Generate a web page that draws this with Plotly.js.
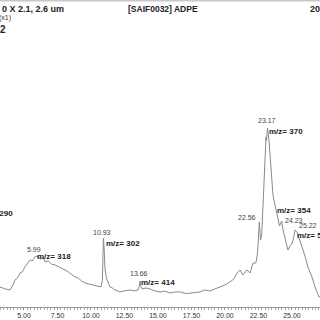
<!DOCTYPE html>
<html>
<head>
<meta charset="utf-8">
<script src="https://cdn.plot.ly/plotly-3.0.1.min.js"></script>
<style>html,body{margin:0;padding:0;background:#fff;}#chart{width:320px;height:320px;}</style>
</head>
<body>
<div id="chart"></div>
<script>
// Retention time (min) and relative abundance (%)
const retentionTime = [
  3.21, 3.58, 3.96, 4.18, 4.33, 4.52, 4.70, 4.88, 5.07, 5.25, 5.45, 5.62, 5.80, 5.99,
  6.12, 6.27, 6.42, 6.57, 6.80, 7.05, 7.31, 7.55, 7.80, 8.06, 8.30, 8.55, 8.81,
  9.05, 9.30, 9.55, 9.80, 10.05, 10.30, 10.55, 10.75, 10.85, 10.93, 11.00, 11.04,
  11.15, 11.27, 11.42, 11.60, 11.79, 12.00, 12.16, 12.40, 12.65, 12.91, 13.20,
  13.51, 13.60, 13.66, 13.72, 13.81, 14.10, 14.40, 14.75, 15.15, 15.50, 15.90,
  16.25, 16.64, 17.10, 17.61, 18.13, 18.50, 18.88, 19.25, 19.63, 20.00, 20.37,
  20.65, 20.90, 21.12, 21.34, 21.50, 21.64, 21.87, 22.09, 22.31, 22.43, 22.56,
  22.65, 22.74, 22.84, 22.95, 23.06, 23.10, 23.17, 23.28, 23.43, 23.58, 23.73,
  23.88, 23.96, 24.07, 24.23, 24.33, 24.48, 24.70, 24.85, 25.00, 25.15, 25.22,
  25.37, 25.52, 25.67, 25.82, 25.97, 26.19, 26.49, 26.72, 26.87, 27.01, 27.09
];
const abundance = [
  11.2, 10.1, 9.5, 12.3, 15.1, 16.2, 19.0, 19.6, 22.3, 24.0, 26.3, 25.7, 27.9, 28.5,
  27.4, 26.8, 27.6, 25.1, 25.7, 24.0, 23.5, 22.6, 21.8, 20.7, 19.6, 18.4, 16.8,
  16.2, 14.5, 13.4, 13.0, 12.6, 12.3, 11.7, 11.2, 15.0, 38.5, 30.0, 21.8,
  16.2, 13.4, 11.2, 10.6, 9.5, 9.0, 8.4, 8.9, 9.2, 9.5, 9.0,
  9.5, 11.5, 14.5, 11.5, 10.1, 10.6, 10.1, 9.0, 8.4, 8.9, 7.8,
  8.4, 8.4, 7.5, 7.8, 8.4, 9.5, 8.9, 10.1, 11.2, 12.3, 14.0,
  15.6, 19.0, 20.7, 17.9, 19.6, 20.7, 19.0, 24.6, 24.6, 30.2, 47.5,
  37.4, 40.0, 59.8, 78.0, 95.0, 93.0, 100.0, 93.3, 78.2, 62.6, 57.0,
  52.5, 49.7, 45.3, 48.0, 43.0, 38.5, 31.8, 34.1, 35.2, 39.7, 43.0,
  41.9, 38.5, 35.2, 33.0, 28.5, 22.3, 16.8, 11.2, 7.8, 5.6, 5.6
];

// Peak annotations
const peakTimes = [5.99, 10.93, 13.66, 22.56, 23.17, 24.23, 25.22];
const peakLabels = ["5.99", "10.93", "13.66", "22.56", "23.17", "24.23", "25.22"];
const mzLabels = ["m/z= 318", "m/z= 302", "m/z= 414", "", "m/z= 370", "m/z= 354", "m/z= 5"];

// Axis tick labels
const tickValues = [5, 7.5, 10, 12.5, 15, 17.5, 20, 22.5, 25];
const tickLabels = ["5.00", "7.50", "10.00", "12.50", "15.00", "17.50", "20.00", "22.50", "25.00"];

// Header texts
const headerLeft = "0 X 2.1, 2.6 um";
const headerSub = "(x1)";
const headerCenter = "[SAIF0032] ADPE";
const headerRight = "20";
const leftCutLabel = "m/z= 290";
const topCutLabel = "2";

function valueAt(t) {
  let best = 0;
  for (let i = 0; i < retentionTime.length; i++) {
    if (Math.abs(retentionTime[i] - t) < Math.abs(retentionTime[best] - t)) best = i;
  }
  return abundance[best];
}

const font = "Liberation Sans, Arial, sans-serif";
const annotations = [];
// peak time label placement tweaks (pixels): xshift, yshift, xanchor, yanchor
const timeShift = [[-3, 1, "center", "bottom"], [-1, 0, "center", "bottom"], [-1, 2, "center", "bottom"], [-1, -1, "right", "bottom"], [0, 2, "center", "bottom"], [1, 1, "left", "middle"], [2, -1, "left", "bottom"]];
const mzShift = [[-2, -1], [1, -5], [-1, -1], [0, 0], [0, -4], [-7, 11], [0, -5]];
peakTimes.forEach((t, i) => {
  const y = valueAt(t);
  annotations.push({
    x: t, y: y, xref: "x", yref: "y", text: peakLabels[i], showarrow: false,
    xanchor: timeShift[i][2], yanchor: timeShift[i][3], xshift: timeShift[i][0], yshift: timeShift[i][1],
    font: {family: font, size: 7, color: "#444"}
  });
  if (mzLabels[i]) {
    annotations.push({
      x: t, y: y, xref: "x", yref: "y", text: "<b>" + mzLabels[i] + "</b>", showarrow: false,
      xanchor: "left", yanchor: "middle", xshift: mzShift[i][0], yshift: mzShift[i][1],
      font: {family: font, size: 8, color: "#222"}
    });
  }
});
annotations.push(
  {x: 0, y: 1, xref: "paper", yref: "paper", text: "<b>" + headerLeft + "</b>", showarrow: false, xanchor: "left", yanchor: "top", yshift: -2, font: {family: font, size: 9, color: "#222"}},
  {x: 0, y: 1, xref: "paper", yref: "paper", text: headerSub, showarrow: false, xanchor: "left", yanchor: "top", xshift: -3, yshift: -12, font: {family: font, size: 7, color: "#333"}},
  {x: 0.5, y: 1, xref: "paper", yref: "paper", text: "<b>" + headerCenter + "</b>", showarrow: false, xanchor: "center", yanchor: "top", yshift: -2, xshift: 3, font: {family: font, size: 8.5, color: "#222"}},
  {x: 1, y: 1, xref: "paper", yref: "paper", text: "<b>" + headerRight + "</b>", showarrow: false, xanchor: "right", yanchor: "top", yshift: -2, xshift: 2, font: {family: font, size: 9, color: "#222"}},
  {x: 0, y: 1, xref: "paper", yref: "paper", text: "<b>" + topCutLabel + "</b>", showarrow: false, xanchor: "right", yanchor: "top", xshift: 8, yshift: -22, font: {family: font, size: 10, color: "#222"}},
  {x: 0, y: 0.305, xref: "paper", yref: "paper", text: "<b>" + leftCutLabel + "</b>", showarrow: false, xanchor: "right", yanchor: "middle", xshift: 15, font: {family: font, size: 8, color: "#222"}}
);

const trace = {
  x: retentionTime, y: abundance, type: "scatter", mode: "lines",
  line: {color: "#8a8a8a", width: 1}, hoverinfo: "skip"
};

const layout = {
  width: 320, height: 320,
  margin: {l: 0, r: 0, t: 0, b: 13, pad: 0},
  paper_bgcolor: "#fff", plot_bgcolor: "#fff",
  showlegend: false,
  xaxis: {
    range: [3.21, 27.09], showgrid: false, zeroline: false,
    showline: true, linecolor: "#999", linewidth: 1,
    ticks: "outside", ticklen: 2, tickcolor: "#999", tickwidth: 1,
    tickvals: tickValues, ticktext: tickLabels,
    minor: {dtick: 0.25, tick0: 0, ticks: "outside", ticklen: 2, tickcolor: "#aaa", tickwidth: 1},
    tickfont: {family: font, size: 7, color: "#333"}, fixedrange: true
  },
  yaxis: {range: [0, 171.5], visible: false, fixedrange: true},
  annotations: annotations,
  shapes: [{type: "line", xref: "paper", yref: "paper", x0: 0, x1: 1, y0: 1, y1: 1, line: {color: "#c8c8c8", width: 3}}]
};

Plotly.newPlot("chart", [trace], layout, {staticPlot: true, displayModeBar: false});
</script>
</body>
</html>
